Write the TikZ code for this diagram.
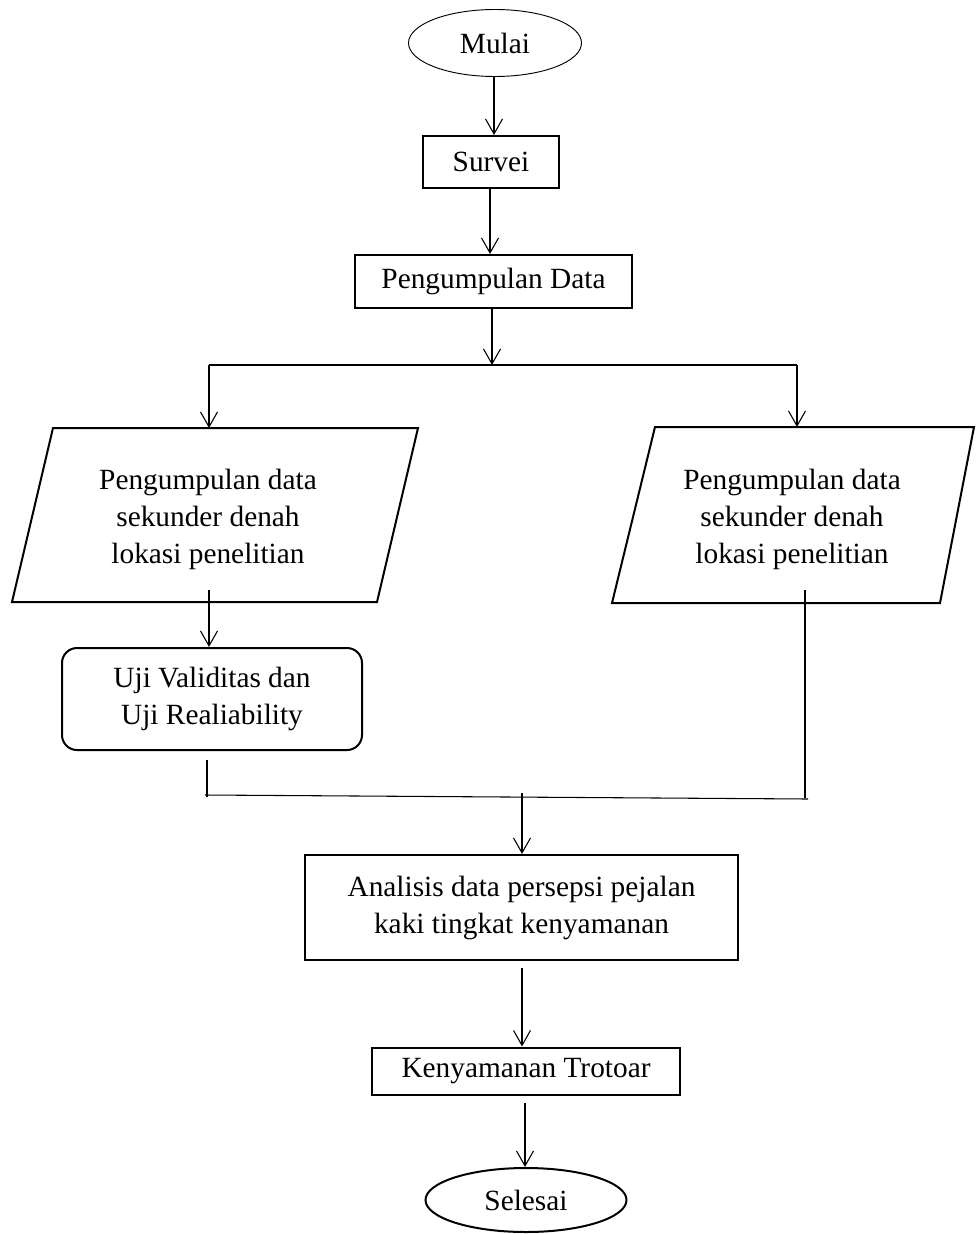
\documentclass[tikz,border=0pt]{standalone}
\usepackage{fontspec}
\setmainfont{Liberation Serif}
\usetikzlibrary{arrows.meta,shapes.geometric}
\newdimen\pxu \pxu=0.75pt
\begin{document}
\begin{tikzpicture}[x=0.75pt,y=-0.75pt,
  txt/.style={font=\fontsize{22}{27.75}\selectfont,align=center,inner sep=0pt},
  box/.style={txt,draw,line width=1.5pt,rectangle},
  oval/.style={txt,draw,ellipse},
  para/.style={draw,line width=1.5pt,line join=miter},
  conn/.style={line width=0.8pt},
  arr/.style={conn,-{Straight Barb[length=11.25pt,width=12.75pt,line width=0.8pt]}}
]
\useasboundingbox (0,0) rectangle (976,1234);

% nodes
\node[oval,line width=0.7pt,minimum width=173\pxu,minimum height=67\pxu] (mulai) at (495,43) {Mulai};
\node[box,minimum width=136\pxu,minimum height=52\pxu] (survei) at (491,162) {Survei};
\node[box,minimum width=277\pxu,minimum height=53\pxu] (data) at (493.5,281.5) {Pengumpulan Data};

% parallelograms
\coordinate (l1) at (53,428); \coordinate (l2) at (418,428);
\coordinate (l3) at (377,602); \coordinate (l4) at (12,602);
\draw[para] (l1) -- (l2) -- (l3) -- (l4) -- cycle;
\node[txt] (ptl) at (208,519) {Pengumpulan data\\sekunder denah\\lokasi penelitian};
\coordinate (r1) at (655,427); \coordinate (r2) at (974,427);
\coordinate (r3) at (940,603); \coordinate (r4) at (612,603);
\draw[para] (r1) -- (r2) -- (r3) -- (r4) -- cycle;
\node[txt] (ptr) at (792,519) {Pengumpulan data\\sekunder denah\\lokasi penelitian};

\node[box,rounded corners=15\pxu,minimum width=300\pxu,minimum height=102\pxu] (uji) at (212,699) {Uji Validitas dan\\Uji Realiability};
\node[box,minimum width=433\pxu,minimum height=105\pxu] (anal) at (521.5,907.5) {Analisis data persepsi pejalan\\kaki tingkat kenyamanan};
\node[box,minimum width=308\pxu,minimum height=47\pxu] (kenya) at (526,1071) {Kenyamanan Trotoar};
\node[oval,line width=1.5pt,minimum width=201\pxu,minimum height=64\pxu] (selesai) at (526,1200) {Selesai};

% connectors
\draw[arr] (mulai.south -| 494,0) -- (494,0 |- survei.north);
\draw[arr] (490,0 |- survei.south) -- (490,0 |- data.north);
\coordinate (split) at (492,365);
\draw[arr] (492,0 |- data.south) -- (split);
\coordinate (sl) at (209,365); \coordinate (sr) at (797,365);
\draw[conn] (sl) -- (sr);
\draw[arr] (sl) -- (209,428);
\draw[arr] (sr) -- (797,427);

\coordinate (pl) at (209,590);
\draw[arr] (pl) -- (pl |- uji.north);
\coordinate (pr) at (805,590); \coordinate (pr2) at (805,798);
\draw[conn] (pr) -- (pr2);
\coordinate (ul) at (207,760); \coordinate (ul2) at (207,797);
\draw[conn] (ul) -- (ul2);
\coordinate (ml) at (205,795); \coordinate (mr) at (808,799);
\draw[conn] (ml) -- (mr);
\coordinate (m) at (522,793);
\draw[arr] (m) -- (m |- anal.north);

\coordinate (a2) at (522,968);
\draw[arr] (a2) -- (a2 |- kenya.north);
\coordinate (k2) at (525,1103);
\draw[arr] (k2) -- (k2 |- selesai.north);
\end{tikzpicture}
\end{document}
